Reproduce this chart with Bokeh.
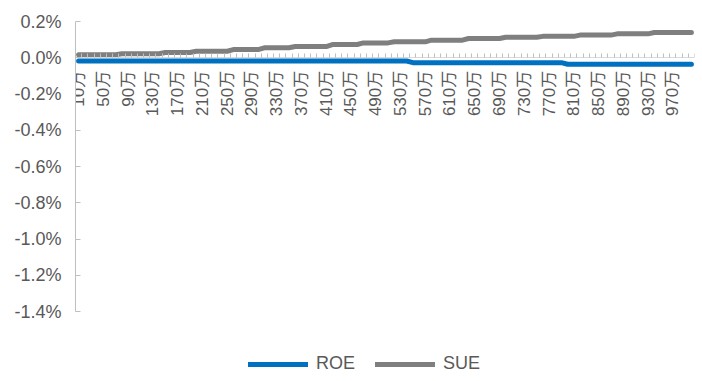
import math
from bokeh.plotting import figure
from bokeh.models import (ColumnDataSource, FixedTicker, NumeralTickFormatter,
                          Legend, LegendItem, Range1d)
from bokeh.embed import file_html
from bokeh.resources import INLINE

# ---- data -------------------------------------------------------------
categories = [f"{v}万" for v in range(10, 1001, 10)]
tick_labels = ["10万", "50万", "90万", "130万", "170万", "210万", "250万", "290万",
               "330万", "370万", "410万", "450万", "490万", "530万", "570万", "610万",
               "650万", "690万", "730万", "770万", "810万", "850万", "890万", "930万",
               "970万"]
y_ticks = [0.2, 0.0, -0.2, -0.4, -0.6, -0.8, -1.0, -1.2, -1.4]  # percent

roe = [  # percent
    -0.018, -0.018, -0.018, -0.018, -0.018, -0.018, -0.018, -0.018, -0.018, -0.018,
    -0.018, -0.018, -0.018, -0.018, -0.018, -0.018, -0.018, -0.018, -0.018, -0.018,
    -0.018, -0.018, -0.018, -0.018, -0.018, -0.018, -0.018, -0.018, -0.018, -0.018,
    -0.018, -0.018, -0.018, -0.018, -0.018, -0.018, -0.018, -0.018, -0.018, -0.018,
    -0.018, -0.018, -0.018, -0.018, -0.018, -0.018, -0.018, -0.018, -0.018, -0.018,
    -0.018, -0.018, -0.018, -0.018, -0.027, -0.027, -0.027, -0.027, -0.027, -0.027,
    -0.027, -0.027, -0.027, -0.027, -0.027, -0.027, -0.027, -0.027, -0.027, -0.027,
    -0.027, -0.027, -0.027, -0.027, -0.027, -0.027, -0.027, -0.027, -0.027, -0.036,
    -0.036, -0.036, -0.036, -0.036, -0.036, -0.036, -0.036, -0.036, -0.036, -0.036,
    -0.036, -0.036, -0.036, -0.036, -0.036, -0.036, -0.036, -0.036, -0.036, -0.036,
]
sue = [  # percent
    0.017, 0.017, 0.017, 0.017, 0.017, 0.017, 0.017, 0.022, 0.022, 0.022,
    0.022, 0.022, 0.022, 0.022, 0.029, 0.029, 0.029, 0.029, 0.029, 0.036,
    0.036, 0.036, 0.036, 0.036, 0.036, 0.045, 0.045, 0.045, 0.045, 0.045,
    0.055, 0.055, 0.055, 0.055, 0.055, 0.062, 0.062, 0.062, 0.062, 0.062,
    0.062, 0.073, 0.073, 0.073, 0.073, 0.073, 0.082, 0.082, 0.082, 0.082,
    0.082, 0.088, 0.088, 0.088, 0.088, 0.088, 0.088, 0.097, 0.097, 0.097,
    0.097, 0.097, 0.097, 0.106, 0.106, 0.106, 0.106, 0.106, 0.106, 0.113,
    0.113, 0.113, 0.113, 0.113, 0.113, 0.118, 0.118, 0.118, 0.118, 0.118,
    0.118, 0.125, 0.125, 0.125, 0.125, 0.125, 0.125, 0.132, 0.132, 0.132,
    0.132, 0.132, 0.132, 0.139, 0.139, 0.139, 0.139, 0.139, 0.139, 0.139,
]

# ---- figure -----------------------------------------------------------
FONT = "Liberation Sans, Noto Sans CJK SC"
TXT = "#595959"

x = list(range(len(categories)))
src = ColumnDataSource(dict(x=x, cat=categories,
                            roe=[v / 100 for v in roe],
                            sue=[v / 100 for v in sue]))

# frame spans the full height below the top margin; the value axis is bounded
# to 0.2% .. -1.4% and the area below it hosts the legend
y_top = y_ticks[0] / 100
y_bot_axis = y_ticks[-1] / 100
px_per_unit = 290 / (y_top - y_bot_axis)
y_bottom = y_top - 360 / px_per_unit

p = figure(width=702, height=381, output_backend="svg", toolbar_location=None,
           x_range=Range1d(-0.5, len(categories) - 0.5),
           y_range=Range1d(y_bottom, y_top),
           min_border_left=75, min_border_right=8, min_border_top=21,
           min_border_bottom=0)
p.outline_line_color = None
p.xgrid.visible = False
p.ygrid.visible = False
p.background_fill_color = "white"
p.border_fill_color = "white"

r_roe = p.line("x", "roe", source=src, line_color="#0070C0", line_width=5,
               line_cap="round", line_join="round")
r_sue = p.line("x", "sue", source=src, line_color="#7F7F7F", line_width=5,
               line_cap="round", line_join="round")

# x axis at 0
xa = p.xaxis[0]
xa.fixed_location = 0
xa.ticker = FixedTicker(ticks=[4 * k for k in range(len(tick_labels))],
                        minor_ticks=[i - 0.5 for i in range(len(categories) + 1)])
xa.major_label_overrides = {4 * k: lab for k, lab in enumerate(tick_labels)}
xa.major_label_orientation = math.pi / 2
xa.major_tick_in = 0
xa.major_tick_out = 0
xa.minor_tick_in = 4
xa.minor_tick_out = 0
xa.axis_line_color = "#D9D9D9"
xa.minor_tick_line_color = "#BFBFBF"
xa.major_label_text_font = FONT
xa.major_label_text_font_size = "17px"
xa.major_label_text_color = TXT
xa.major_label_standoff = 13

# y axis
ya = p.yaxis[0]
ya.bounds = (y_bot_axis, y_top)
ya.ticker = FixedTicker(ticks=[v / 100 for v in y_ticks])
ya.formatter = NumeralTickFormatter(format="0.0%")
ya.major_tick_in = 5
ya.major_tick_out = 0
ya.minor_tick_in = 0
ya.minor_tick_out = 0
ya.axis_line_color = "#BFBFBF"
ya.major_tick_line_color = "#BFBFBF"
ya.major_label_text_font = FONT
ya.major_label_text_font_size = "18px"
ya.major_label_text_color = TXT
ya.major_label_standoff = 14

legend = Legend(items=[LegendItem(label="ROE", renderers=[r_roe]),
                       LegendItem(label="SUE", renderers=[r_sue])],
                orientation="horizontal", location=(173, 7),
                glyph_width=60, glyph_height=20, label_standoff=8, spacing=20,
                padding=0, margin=0, border_line_color=None,
                background_fill_alpha=0,
                label_text_font=FONT, label_text_font_size="18px",
                label_text_color=TXT)
p.add_layout(legend)

open("out.html", "w").write(file_html(p, INLINE))
